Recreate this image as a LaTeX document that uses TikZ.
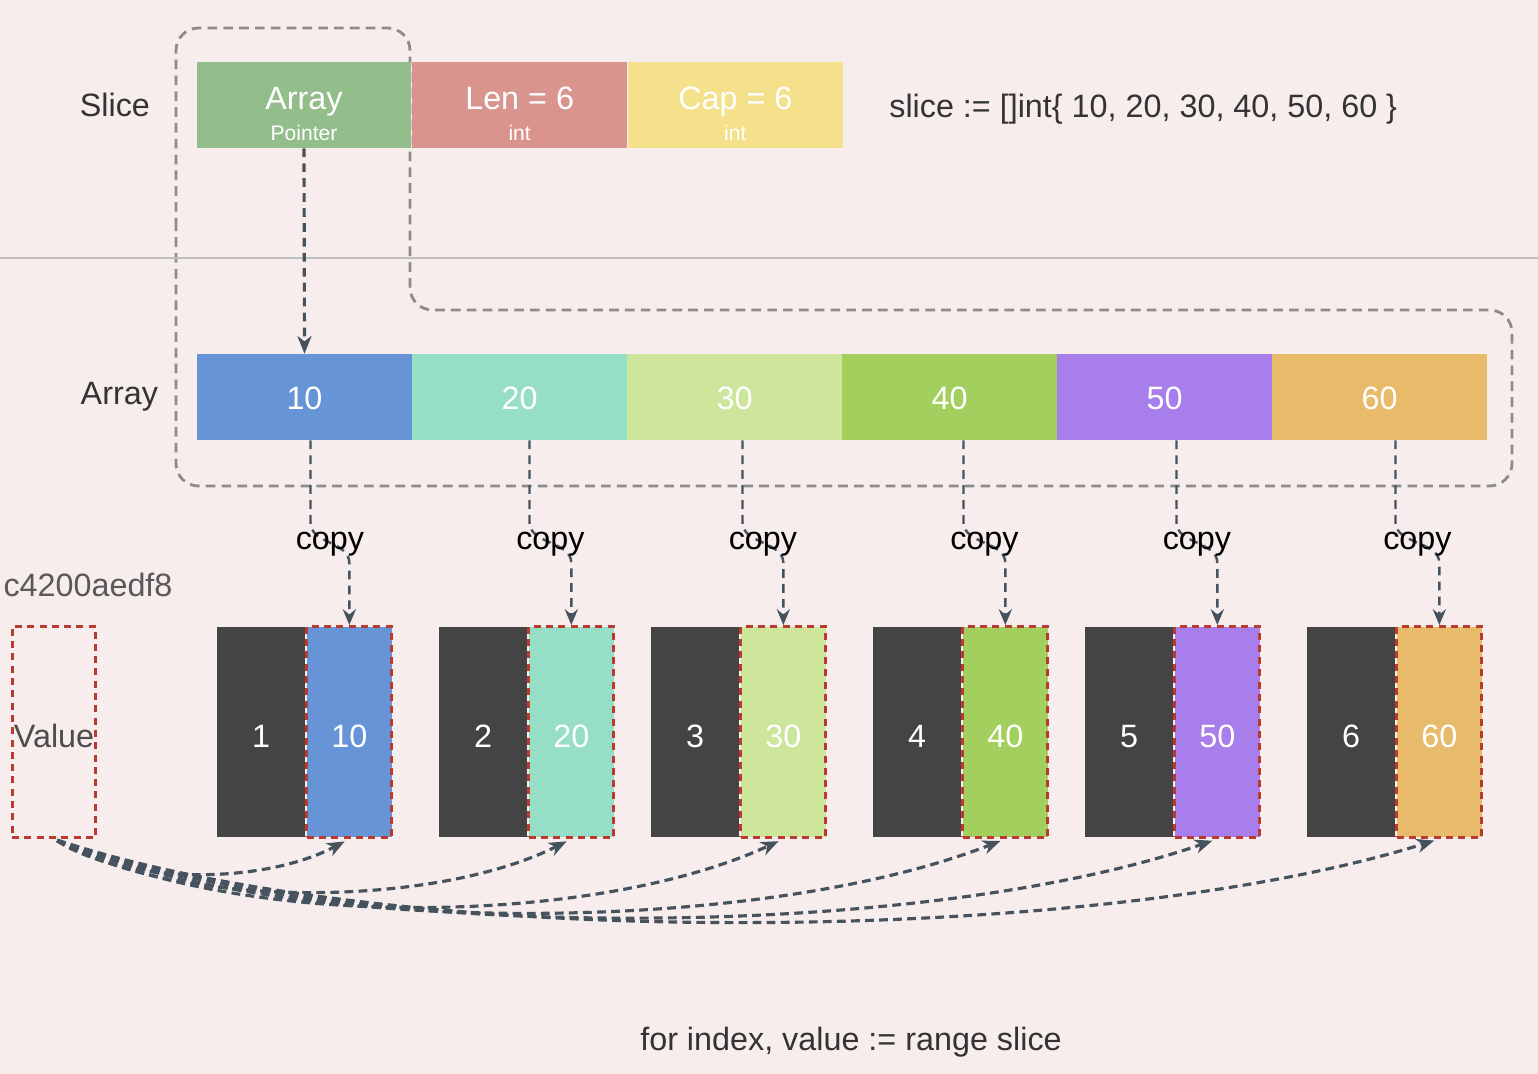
\documentclass[tikz,border=0pt]{standalone}
\usepackage{fontspec}
\setmainfont{Liberation Sans}
\usetikzlibrary{arrows.meta, positioning, calc}

\definecolor{bgpink}{HTML}{F7EDEC}
\definecolor{sgreen}{HTML}{93BE8C}
\definecolor{sred}{HTML}{D9958D}
\definecolor{syellow}{HTML}{F5E08B}
\definecolor{arr1}{HTML}{6793D7}
\definecolor{arr2}{HTML}{96DFC6}
\definecolor{arr3}{HTML}{CDE69B}
\definecolor{arr4}{HTML}{A3CF5E}
\definecolor{arr5}{HTML}{A77EEB}
\definecolor{arr6}{HTML}{E8BB6B}
\definecolor{darkcell}{HTML}{444444}
\definecolor{redash}{HTML}{BA3A2F}
\definecolor{slate}{HTML}{45535F}
\definecolor{outline}{HTML}{8C8C8C}
\definecolor{labeltext}{HTML}{333333}

\begin{document}
\begin{tikzpicture}[
    x=0.02cm, y=-0.02cm,
    node distance=0pt,
    big/.style={font=\fontsize{18.4}{21}\selectfont},
    cell/.style={rectangle, minimum width=4.3cm, minimum height=1.72cm, inner sep=0pt, text=white, align=center, big},
    idx/.style={rectangle, fill=darkcell, minimum width=1.76cm, minimum height=4.22cm, inner sep=0pt, text height=18pt, text=white, big},
    val/.style={rectangle, draw=redash, line width=1.7pt, dash pattern=on 4pt off 3pt, minimum width=1.7cm, minimum height=4.22cm, inner sep=0pt, text height=18pt, text=white, big},
    side/.style={text=labeltext, big},
    copylbl/.style={text=black, big, inner sep=0pt, yshift=-1pt},
    ptrline/.style={-{Stealth[length=10pt, width=8pt, inset=3pt]}, slate, line width=1.8pt, dash pattern=on 5pt off 3.5pt},
    copyline/.style={-{Stealth[length=9pt, width=7.5pt, inset=3pt]}, slate, line width=1.4pt, dash pattern=on 5pt off 3.5pt},
    valline/.style={-{Stealth[length=10pt, width=8pt, inset=3pt]}, slate, line width=1.8pt, dash pattern=on 5pt off 3pt},
]

\useasboundingbox[fill=bgpink] (0,0) rectangle (1538,1074);

% dashed outline around slice header and backing array
\draw[outline, line width=1.6pt, dash pattern=on 5.5pt off 3.5pt, rounded corners=0.45cm]
    (176,250) -- (176,28) -- (410,28) -- (410,310) -- (1512,310) -- (1512,486) -- (176,486) -- cycle;

% separator
\draw[black!25, line width=1.3pt] (0,258) -- (1538,258);

% slice header
\node[cell, fill=sgreen] (sarr) at (304,105) {\rule{0pt}{23pt}Array\\[-3pt]{\fontsize{12}{14}\selectfont Pointer}};
\node[cell, fill=sred, right=of sarr] (slen) {\rule{0pt}{23pt}Len = 6\\[-3pt]{\fontsize{12}{14}\selectfont int}};
\node[cell, fill=syellow, right=of slen] (scap) {\rule{0pt}{23pt}Cap = 6\\[-3pt]{\fontsize{12}{14}\selectfont int}};
\node[side, left=0.8cm of sarr] (slicelbl) {Slice};
\node[side, right=0.8cm of scap, yshift=-2.5pt] (decl) {slice := []int\{ 10, 20, 30, 40, 50, 60 \}};

% backing array
\foreach \v [count=\i] in {10,20,30,40,50,60}
    \node[cell, fill=arr\i, text height=14pt] (a\i) at ({89.5+215*\i},397) {\v};
\node[side, left=0.65cm of a1] (arraylbl) {Array};

\draw[ptrline] (sarr.south) -- (a1.north);

% range variable
\node[side, text=black!65] (addr) at (88,585) {c4200aedf8};
\node[val, fill=none, minimum width=1.68cm, text=black!70] (value) at (54,732) {Value};

% index / value pairs
\foreach \i/\v/\x/\dx in {1/10/217/6, 2/20/439/10, 3/30/651/8, 4/40/873/14, 5/50/1085/12, 6/60/1307/16} {
    \node[idx] (d\i) at ({\x+44},732) {\i};
    \node[val, fill=arr\i, right=of d\i] (v\i) {\v};
    \draw[copyline] ($(a\i.south)+(\dx,0)$) -- ++(0,82)
        .. controls +(0,22) and +(0,-22) .. node[copylbl] {copy} ($(v\i.north)+(0,-62)$) -- (v\i.north);
}

% value copied into each slot
\foreach \i/\ax/\ay/\bx/\by in {1/75/47/-85/45, 2/130/72/-135/68, 3/185/92/-190/88, 4/240/100/-245/96, 5/290/107/-295/102, 6/340/113/-345/108}
    \draw[valline, shorten <=2pt, shorten >=3pt] (value.south) .. controls +(\ax,\ay) and +(\bx,\by) .. (v\i.south);

\node[side] (loop) at (851,1042) {for index, value := range slice};

\end{tikzpicture}
\end{document}
